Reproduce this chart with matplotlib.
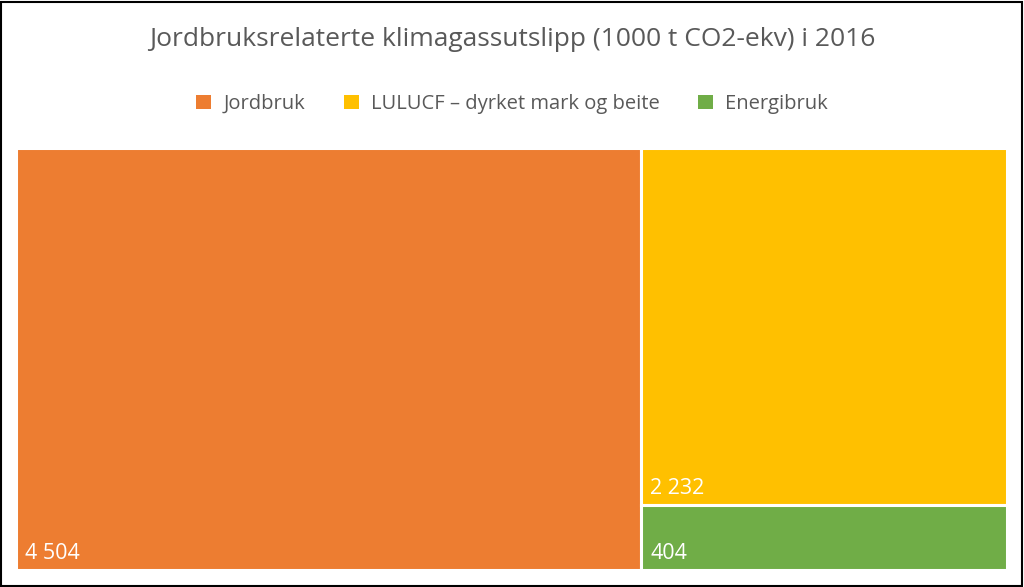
import matplotlib.pyplot as plt
from matplotlib.patches import Rectangle, Patch

# data
categories = ['Jordbruk', 'LULUCF – dyrket mark og beite', 'Energibruk']
values = [4504, 2232, 404]
value_labels = ['4 504', '2 232', '404']
colors = ['#ED7D31', '#FFC000', '#70AD47']

plt.rcParams['font.family'] = ['Open Sans', 'DejaVu Sans']

fig = plt.figure(figsize=(10.24, 5.87), dpi=100)
ax = fig.add_axes([16 / 1024, 17 / 587, 991 / 1024, 422 / 587])
ax.set_xlim(0, 1)
ax.set_ylim(0, 1)
ax.axis('off')

# simple treemap layout: first item a full-height column, the rest stacked on the right
total = sum(values)
w0 = values[0] / total
rest = sum(values[1:])
rects = [(0, 0, w0, 1)]
y_top = 1
for v in values[1:]:
    h = v / rest
    rects.append((w0, y_top - h, 1 - w0, h))
    y_top -= h

for (x, y, w, h), c, lab in zip(rects, colors, value_labels):
    ax.add_patch(Rectangle((x, y), w, h, facecolor=c, edgecolor='white', linewidth=2.2))
    ax.annotate(lab, (x, y), xytext=(6.5, 8), textcoords='offset points',
                color='white', fontsize=15.5, ha='left', va='baseline')

fig.text(0.5, 1 - 40 / 587, 'Jordbruksrelaterte klimagassutslipp (1000 t CO2-ekv) i 2016',
         ha='center', va='center', fontsize=19, color='#595959')

handles = [Patch(facecolor=c, edgecolor='none') for c in colors]
fig.legend(handles, categories, loc='center', bbox_to_anchor=(0.5, 1 - 104 / 587),
           ncol=3, frameon=False, fontsize=14.5, labelcolor='#595959',
           handlelength=0.75, handleheight=0.75, columnspacing=1.9, handletextpad=0.6)

# outer frame
fig.add_artist(Rectangle((0.001, 0.002), 0.997, 0.995, transform=fig.transFigure,
                         fill=False, edgecolor='black', linewidth=1.5))

fig.savefig('out.png', dpi=100)
